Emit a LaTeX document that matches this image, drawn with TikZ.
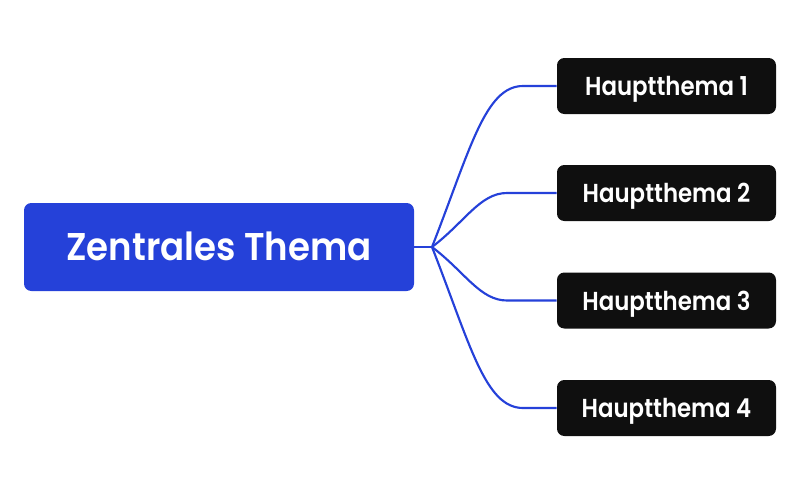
\documentclass[tikz,border=0pt]{standalone}
\usepackage{fontspec}
\setmainfont{Poppins}
\newfontfamily\popc[FakeStretch=0.92,BoldFont={Poppins SemiBold}]{Poppins}
\newfontfamily\pops[FakeStretch=0.88,BoldFont={Poppins SemiBold}]{Poppins}
\definecolor{cblue}{HTML}{2541D9}
\definecolor{cblack}{HTML}{0F0F0F}
\begin{document}
\begin{tikzpicture}[x=0.75pt,y=-0.75pt,
  central/.style={fill=cblue,rounded corners=5.5pt,minimum width=292.5pt,minimum height=66pt,inner sep=0pt,text=white,text height=20.25pt,text depth=0pt,font=\popc\fontsize{29}{32}\selectfont\bfseries},
  sub/.style={fill=cblack,rounded corners=5.5pt,minimum width=164.25pt,minimum height=42pt,inner sep=0pt,text=white,text height=14.25pt,text depth=0pt,font=\pops\fontsize{19.5}{22}\selectfont\bfseries},
  link/.style={draw=cblue,line width=1.6pt}]
\useasboundingbox (0,0) rectangle (800,494);
\node[central] (c) at (219,247) {Zentrales Thema};
\node[sub] (s1) at (666.5,86) {Hauptthema 1};
\node[sub] (s2) at (666.5,193) {Hauptthema 2};
\node[sub] (s3) at (666.5,300.5) {Hauptthema 3};
\node[sub] (s4) at (666.5,408) {Hauptthema 4};
\coordinate (j) at (432,247);
\draw[link] (c.east) -- (j);
\draw[link] (j) .. controls (470,150) and (485,86) .. (523,86) -- (s1.west);
\draw[link] (j) .. controls (465,222) and (480,193) .. (507,193) -- (s2.west);
\draw[link] (j) .. controls (465,272) and (480,300.5) .. (507,300.5) -- (s3.west);
\draw[link] (j) .. controls (470,344) and (485,408) .. (523,408) -- (s4.west);
\end{tikzpicture}
\end{document}
